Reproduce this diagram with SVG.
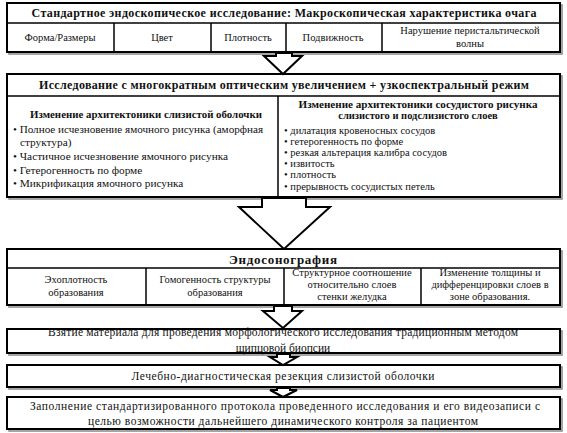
<svg xmlns="http://www.w3.org/2000/svg" width="567" height="433" viewBox="0 0 567 433" font-family="'Liberation Serif','Times New Roman',serif">
<style>
.box{fill:#fff;stroke:#000;stroke-width:2}
.sh{fill:none;stroke:#888;stroke-width:1.5}
.ln{stroke:#000;stroke-width:1.5;fill:none}
.arr{fill:#fff;stroke:#000;stroke-width:2;stroke-linejoin:miter}
text{font-family:"Liberation Serif","Times New Roman",serif;fill:#111}
.t{font-size:12px;font-weight:bold;text-anchor:middle}
.c{font-size:10.5px;text-anchor:middle}
.h{font-size:10.5px;font-weight:bold}
.b{font-size:10.5px}
.bl{font-size:11.3px}
.m{font-size:11.5px;text-anchor:middle}
</style>
<rect x="0" y="0" width="567" height="433" fill="#fff"/>
<g id="n1">
<rect class="sh" x="9" y="5" width="553" height="49"/>
<rect class="box" x="7" y="3" width="553" height="49"/>
<line class="ln" x1="7" y1="23" x2="560" y2="23"/>
<line class="ln" x1="114" y1="23" x2="114" y2="52"/>
<line class="ln" x1="211" y1="23" x2="211" y2="52"/>
<line class="ln" x1="286" y1="23" x2="286" y2="52"/>
<line class="ln" x1="382" y1="23" x2="382" y2="52"/>
<text class="t" x="284" y="17" textLength="505" lengthAdjust="spacing">Стандартное  эндоскопическое исследование: Макроскопическая характеристика  очага</text>
<text class="c" x="60" y="41">Форма/Размеры</text>
<text class="c" x="162" y="41">Цвет</text>
<text class="c" x="248" y="41">Плотность</text>
<text class="c" x="333" y="41">Подвижность</text>
<text class="c" x="470" y="34">Нарушение перистальтической</text>
<text class="c" x="470" y="47">волны</text>
</g>
<g id="n2">
<rect class="sh" x="9" y="76" width="553" height="123"/>
<rect class="box" x="7" y="74" width="553" height="123"/>
<line class="ln" x1="7" y1="96" x2="560" y2="96"/>
<line class="ln" x1="278" y1="96" x2="278" y2="197"/>
<text class="t" x="284" y="89" textLength="490" lengthAdjust="spacing">Исследование с многократным  оптическим увеличением + узкоспектральный  режим</text>
<text class="h" x="30" y="118" textLength="232" lengthAdjust="spacingAndGlyphs">Изменение архитектоники слизистой оболочки</text>
<text class="bl" x="13" y="133" textLength="250" lengthAdjust="spacingAndGlyphs">• Полное исчезновение ямочного рисунка (аморфная</text>
<text class="bl" x="20" y="146">структура)</text>
<text class="bl" x="13" y="160">• Частичное исчезновение ямочного рисунка</text>
<text class="bl" x="13" y="174">• Гетерогенность по форме</text>
<text class="bl" x="13" y="187">• Микрификация ямочного рисунка</text>
<text class="h" x="418" y="108" text-anchor="middle" textLength="239" lengthAdjust="spacingAndGlyphs">Изменение архитектоники сосудистого рисунка</text>
<text class="h" x="418" y="119" text-anchor="middle">слизистого и подслизистого слоев</text>
<text class="b" x="284" y="134">• дилатация кровеносных сосудов</text>
<text class="b" x="284" y="145">• гетерогенность по форме</text>
<text class="b" x="284" y="156">• резкая альтерация калибра сосудов</text>
<text class="b" x="284" y="167">• извитость</text>
<text class="b" x="284" y="178">• плотность</text>
<text class="b" x="284" y="190">• прерывность сосудистых петель</text>
</g>
<g id="n3">
<rect class="sh" x="9" y="251" width="553" height="56"/>
<rect class="box" x="7" y="249" width="553" height="56"/>
<line class="ln" x1="7" y1="268" x2="560" y2="268"/>
<line class="ln" x1="146" y1="268" x2="146" y2="305"/>
<line class="ln" x1="284" y1="268" x2="284" y2="305"/>
<line class="ln" x1="421" y1="268" x2="421" y2="305"/>
<text class="t" x="283" y="264" style="font-size:13px" textLength="108" lengthAdjust="spacing">Эндосонография</text>
<text class="c" x="76" y="283">Эхоплотность</text>
<text class="c" x="76" y="296">образования</text>
<text class="c" x="215" y="283">Гомогенность структуры</text>
<text class="c" x="215" y="296">образования</text>
<text class="c" x="352" y="276">Структурное соотношение</text>
<text class="c" x="352" y="288">относительно слоев</text>
<text class="c" x="352" y="300">стенки желудка</text>
<text class="c" x="490" y="276">Изменение толщины и</text>
<text class="c" x="490" y="288">дифференцировки слоев в</text>
<text class="c" x="490" y="300">зоне образования.</text>
</g>
<g id="n4">
<rect class="sh" x="9" y="331" width="553" height="24"/>
<rect x="7" y="329" width="553" height="24" fill="#fff"/>
<text class="m" x="283" y="336" textLength="470" lengthAdjust="spacing">Взятие материала  для проведения морфологического исследования традиционным  методом</text>
<text class="m" x="283" y="352">щипцовой биопсии</text>
<rect x="7" y="329" width="553" height="24" fill="none" stroke="#000" stroke-width="2"/>
</g>
<g id="n5">
<rect class="sh" x="9" y="367" width="553" height="22"/>
<rect class="box" x="7" y="365" width="553" height="22"/>
<text class="m" x="283" y="380" textLength="303" lengthAdjust="spacing">Лечебно-диагностическая  резекция  слизистой  оболочки</text>
</g>
<g id="n6">
<rect class="sh" x="9" y="399" width="553" height="32"/>
<rect class="box" x="7" y="397" width="553" height="32"/>
<text class="m" x="285" y="410" textLength="510" lengthAdjust="spacing">Заполнение стандартизированного протокола проведенного исследования и его видеозаписи с</text>
<text class="m" x="283" y="425" textLength="390" lengthAdjust="spacing">целью возможности дальнейшего динамического контроля за пациентом</text>
</g>
<g id="connectors">
<polygon class="arr" points="276,53 292,53 292,56 302,56 283,74 264,56 276,56"/>
<polygon class="arr" points="262,198 306,198 306,207 330,207 284,249 239,207 262,207"/>
<polygon class="arr" points="274,306 292,306 292,311 302,311 283,328 263,311 274,311"/>
<polygon class="arr" points="277,354 290,354 290,357 297,357 283,365 270,357 277,357"/>
<polygon class="arr" points="277,388 290,388 290,390 297,390 283,397 270,390 277,390"/>
</g>
</svg>
